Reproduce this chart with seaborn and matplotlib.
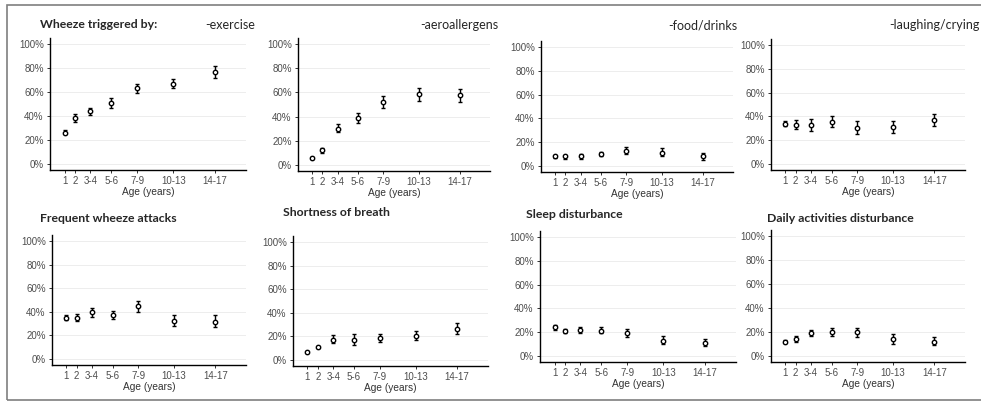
import numpy as np
import pandas as pd
import matplotlib
matplotlib.use("Agg")
import matplotlib.pyplot as plt
import seaborn as sns
from matplotlib.patches import Rectangle

# age groups: tick labels and their midpoints on the x axis
age_labels = ["1", "2", "3-4", "5-6", "7-9", "10-13", "14-17"]
age_mid = [1, 2, 3.5, 5.5, 8, 11.5, 15.5]

# prevalence (%) with lower / upper limits
exercise = [26, 38, 44, 51, 63, 67, 77]
exercise_lo = [25, 35, 41, 47, 59, 63, 72]
exercise_hi = [28, 42, 47, 55, 67, 71, 82]

aero = [6, 12, 30, 39, 52, 59, 58]
aero_lo = [5, 10, 27, 35, 47, 53, 52]
aero_hi = [7, 14, 34, 43, 57, 64, 63]

food = [8, 8, 8, 10, 13, 11, 8]
food_lo = [7, 6, 6, 8, 10, 8, 5]
food_hi = [9, 9, 10, 12, 16, 15, 11]

laugh = [34, 33, 33, 35, 30, 31, 37]
laugh_lo = [32, 29, 28, 31, 25, 26, 32]
laugh_hi = [36, 37, 38, 40, 36, 36, 42]

frequent = [35, 35, 40, 37, 45, 32, 31]
frequent_lo = [33, 32, 36, 34, 40, 28, 27]
frequent_hi = [37, 38, 43, 41, 49, 37, 37]

breath = [7, 11, 17, 17, 19, 20, 26]
breath_lo = [6, 10, 14, 13, 15, 17, 22]
breath_hi = [8, 12, 21, 22, 22, 25, 31]

sleep = [24, 21, 22, 21, 19, 13, 11]
sleep_lo = [22, 19, 19, 19, 16, 10, 8]
sleep_hi = [26, 23, 24, 24, 23, 17, 14]

daily = [12, 14, 19, 20, 20, 14, 12]
daily_lo = [11, 12, 17, 17, 16, 10, 9]
daily_hi = [13, 17, 22, 23, 23, 18, 16]

W, H = 981, 408
sns.set_theme(style="white")
plt.rcParams["font.family"] = ["Liberation Sans", "DejaVu Sans"]

fig = plt.figure(figsize=(W / 100, H / 100), dpi=100)
fig.patches.append(Rectangle((7 / W, 1 - 400 / H), (W + 5 - 7) / W, (400 - 5) / H,
                             transform=fig.transFigure, fill=False,
                             edgecolor="#7f7f7f", linewidth=1.2))

# panel boxes in pixels: left, right, y of 100%, y of 0%
panels = [
    (50, 246, 44, 164, exercise, exercise_lo, exercise_hi),
    (298, 490, 44, 165, aero, aero_lo, aero_hi),
    (541, 733, 47, 166, food, food_lo, food_hi),
    (771, 965, 45, 164, laugh, laugh_lo, laugh_hi),
    (52, 246, 241, 359, frequent, frequent_lo, frequent_hi),
    (293, 488, 242, 360, breath, breath_lo, breath_hi),
    (540, 736, 237, 356, sleep, sleep_lo, sleep_hi),
    (771, 965, 236, 356, daily, daily_lo, daily_hi),
]

for left, right, y100, y0, mid, lo, hi in panels:
    s = (y0 - y100) / 100
    top = y100 - 5 * s
    bottom = y0 + 5 * s
    ax = fig.add_axes([left / W, 1 - bottom / H, (right - left) / W, (bottom - top) / H])
    df = pd.DataFrame({"age": age_mid, "p": mid, "lo": lo, "hi": hi})
    ax.errorbar(df["age"], df["p"], yerr=[df["p"] - df["lo"], df["hi"] - df["p"]],
                fmt="none", ecolor="black", elinewidth=1.0, capsize=1.6, capthick=1.0, zorder=3)
    sns.scatterplot(data=df, x="age", y="p", ax=ax, marker="o", s=10,
                    facecolor="white", edgecolor="black", linewidth=1.0, zorder=4)
    ax.set_xlim(-0.4, 18.5)
    ax.set_ylim(-5, 105)
    ax.set_yticks([0, 20, 40, 60, 80, 100])
    ax.set_yticklabels(["0%", "20%", "40%", "60%", "80%", "100%"])
    ax.set_xticks(age_mid)
    ax.set_xticklabels(age_labels)
    ax.yaxis.grid(True, color="#ededed", linewidth=0.7)
    ax.set_axisbelow(True)
    for sp in ["top", "right"]:
        ax.spines[sp].set_visible(False)
    for sp in ["left", "bottom"]:
        ax.spines[sp].set_color("black")
        ax.spines[sp].set_linewidth(1.0)
    ax.tick_params(axis="both", length=2.5, width=0.7, color="#333333",
                   labelsize=7, labelcolor="#4d4d4d", pad=2, bottom=True, left=True)
    ax.set_xlabel("Age (years)", fontsize=7.3, color="#333333", labelpad=0.5)
    ax.set_ylabel("")

title_font = ["Lato", "DejaVu Sans"]
fig.text(40 / W, 1 - 25 / H, "Wheeze triggered by:", fontsize=8.8, fontweight="bold",
         family=title_font, va="center", ha="left")
for x, lab in [(255, "-exercise"), (498, "-aeroallergens"), (737, "-food/drinks"), (980, "-laughing/crying")]:
    fig.text(x / W, 1 - 25 / H, lab, fontsize=9, family=title_font, va="center", ha="right")
for x, y, lab in [(40, 218, "Frequent wheeze attacks"), (283, 213, "Shortness of breath"),
                  (526, 214, "Sleep disturbance"), (767, 218, "Daily activities disturbance")]:
    fig.text(x / W, 1 - y / H, lab, fontsize=8.8, fontweight="bold", family=title_font,
             va="center", ha="left")

fig.savefig("out.png", dpi=100)
